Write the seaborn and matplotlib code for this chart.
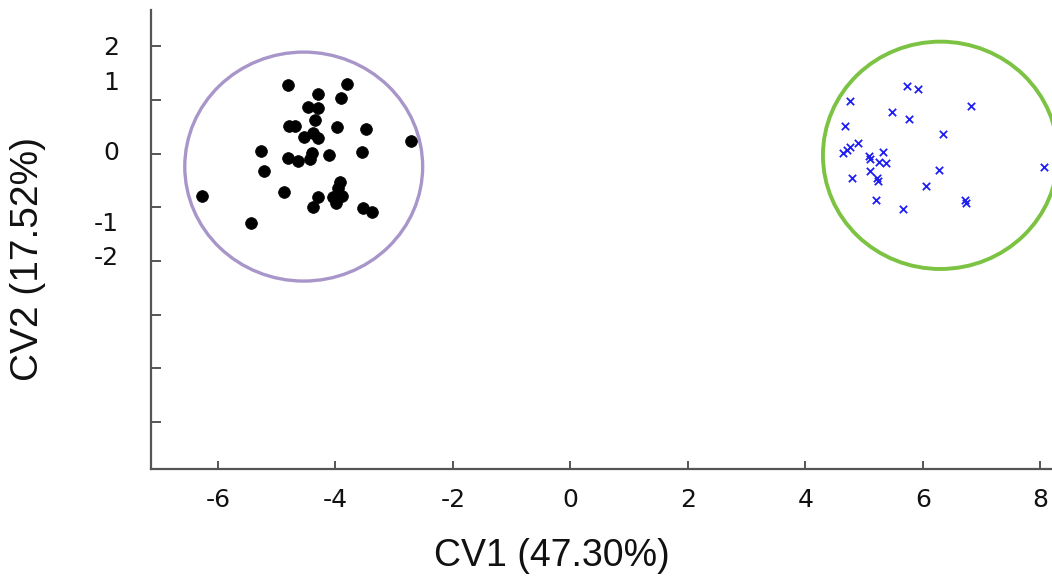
import matplotlib
matplotlib.use("Agg")
import matplotlib.pyplot as plt
from matplotlib.patches import Ellipse
from matplotlib.ticker import FixedLocator
import seaborn as sns
import pandas as pd

# ---- data ----
group_a_cv1 = [-4.80, -3.80, -4.29, -3.91, -4.46, -4.29, -4.35, -4.79, -4.69, -3.98,
               -3.48, -4.53, -4.39, -4.29, -2.72, -5.26, -3.55, -4.11, -4.40, -4.81,
               -4.64, -4.43, -5.22, -3.92, -3.95, -4.88, -6.27, -4.29, -4.04, -3.88,
               -3.99, -4.38, -3.53, -3.38, -5.43]
group_a_cv2 = [1.28, 1.30, 1.12, 1.03, 0.88, 0.86, 0.63, 0.52, 0.52, 0.49,
               0.46, 0.32, 0.38, 0.29, 0.23, 0.05, 0.03, -0.02, 0.01, -0.08,
               -0.13, -0.10, -0.33, -0.52, -0.64, -0.71, -0.78, -0.81, -0.80, -0.79,
               -0.91, -1.00, -1.02, -1.09, -1.29]

group_b_cv1 = [5.73, 5.92, 4.76, 6.82, 5.48, 5.77, 4.68, 6.35, 4.89, 4.76,
               4.71, 4.65, 5.32, 5.08, 5.10, 5.25, 5.37, 6.27, 5.10, 5.22,
               5.24, 4.79, 8.07, 6.05, 5.21, 6.72, 6.74, 5.67]
group_b_cv2 = [1.27, 1.20, 0.99, 0.89, 0.77, 0.64, 0.51, 0.37, 0.20, 0.13,
               0.06, 0.02, 0.03, -0.05, -0.10, -0.15, -0.18, -0.30, -0.32, -0.46,
               -0.50, -0.46, -0.25, -0.60, -0.86, -0.86, -0.91, -1.03]

# confidence circles: centre x, centre y, width, height
circle_a = (-4.54, -0.24, 4.05, 4.27)
circle_b = (6.30, -0.03, 4.00, 4.24)

x_ticks = [-6, -4, -2, 0, 2, 4, 6, 8]
y_tick_marks = [2, 1, 0, -1, -2, -3, -4, -5]
y_tick_labels = ["2", "1", "0", "-1", "-2"]
y_tick_label_pos = [2.02, 1.36, 0.06, -1.27, -1.90]

x_label = "CV1 (47.30%)"
y_label = "CV2 (17.52%)"

# ---- plot ----
sns.set_style("ticks")
plt.rcParams["font.family"] = ["Liberation Sans", "DejaVu Sans"]

fig = plt.figure(figsize=(10.52, 5.77), dpi=100)
ax = fig.add_axes([151 / 1052, 1 - 469 / 577, 1 - 151 / 1052, (469 - 10) / 577])

df_a = pd.DataFrame({"CV1": group_a_cv1, "CV2": group_a_cv2})
df_b = pd.DataFrame({"CV1": group_b_cv1, "CV2": group_b_cv2})

sns.scatterplot(data=df_a, x="CV1", y="CV2", ax=ax, color="black", marker="o",
                s=72, edgecolor="black", linewidth=0.5, zorder=3)
sns.scatterplot(data=df_b, x="CV1", y="CV2", ax=ax, color="#1f1ff2", marker="x",
                s=28, linewidth=1.3, zorder=3)

for (cx, cy, w, h), col, lw in [(circle_a, "#a895c9", 2.4), (circle_b, "#7cc243", 2.8)]:
    ax.add_patch(Ellipse((cx, cy), w, h, fill=False, edgecolor=col, linewidth=lw, zorder=2))

ax.set_xlim(-7.14, 8.20)
ax.set_ylim(-5.88, 2.68)

ax.set_xticks(x_ticks)
ax.set_xticklabels([str(t) for t in x_ticks])
ax.set_yticks(y_tick_label_pos)
ax.set_yticklabels(y_tick_labels)
ax.yaxis.set_minor_locator(FixedLocator(y_tick_marks))

tick_font = {"family": ["DejaVu Sans"], "size": 18}
for lab in ax.get_xticklabels() + ax.get_yticklabels():
    lab.set_fontfamily(["DejaVu Sans"])

spine_col = "#555555"
for side in ["top", "right"]:
    ax.spines[side].set_visible(False)
for side in ["left", "bottom"]:
    ax.spines[side].set_color(spine_col)
    ax.spines[side].set_linewidth(1.6)

ax.tick_params(axis="x", which="major", direction="in", length=6, width=1.4,
               color=spine_col, pad=14, labelsize=18, labelcolor="#111111")
ax.tick_params(axis="y", which="major", length=0, pad=23, labelsize=18,
               labelcolor="#111111")
ax.tick_params(axis="y", which="minor", direction="in", length=7, width=1.4,
               color=spine_col)

ax.set_xlabel(x_label, fontsize=27, color="#111111")
ax.set_ylabel(y_label, fontsize=28, color="#111111")
ax.xaxis.set_label_coords(0.445, -0.150)
ax.yaxis.set_label_coords(-0.1165, 0.4575)

ax.set_facecolor("white")
fig.patch.set_facecolor("white")
fig.savefig("out.png", dpi=100)
